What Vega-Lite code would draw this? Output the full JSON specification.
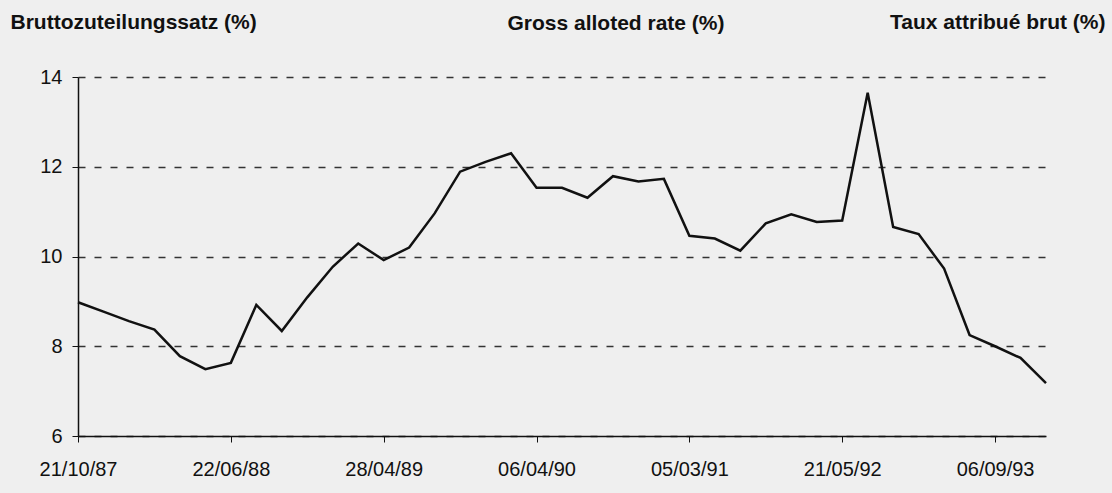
{
  "$schema": "https://vega.github.io/schema/vega-lite/v6.json",
  "width": 968,
  "height": 359,
  "autosize": {"type": "none"},
  "padding": {"left": 78, "top": 77, "right": 66, "bottom": 57},
  "background": "#efefef",
  "config": {
    "view": {"stroke": null},
    "font": "Liberation Sans",
    "axis": {"labelFont": "Liberation Sans", "labelFontSize": 20, "labelColor": "#111", "domainColor": "#111", "tickColor": "#111", "titleFont": "Liberation Sans"}
  },
  "title": {
    "text": "Gross alloted rate (%)",
    "anchor": "middle",
    "frame": "group",
    "dx": 54,
    "dy": 40,
    "offset": 0,
    "baseline": "alphabetic",
    "font": "Liberation Sans",
    "fontSize": 21,
    "fontWeight": "bold",
    "color": "#111"
  },
  "data": {
    "values": [
      {"i": 0, "rate": 8.98}, {"i": 1, "rate": 8.77}, {"i": 2, "rate": 8.56}, {"i": 3, "rate": 8.37},
      {"i": 4, "rate": 7.78}, {"i": 5, "rate": 7.49}, {"i": 6, "rate": 7.63}, {"i": 7, "rate": 8.92},
      {"i": 8, "rate": 8.34}, {"i": 9, "rate": 9.09}, {"i": 10, "rate": 9.77}, {"i": 11, "rate": 10.29},
      {"i": 12, "rate": 9.92}, {"i": 13, "rate": 10.2}, {"i": 14, "rate": 10.96}, {"i": 15, "rate": 11.89},
      {"i": 16, "rate": 12.11}, {"i": 17, "rate": 12.3}, {"i": 18, "rate": 11.53}, {"i": 19, "rate": 11.53},
      {"i": 20, "rate": 11.31}, {"i": 21, "rate": 11.79}, {"i": 22, "rate": 11.67}, {"i": 23, "rate": 11.73},
      {"i": 24, "rate": 10.46}, {"i": 25, "rate": 10.4}, {"i": 26, "rate": 10.13}, {"i": 27, "rate": 10.74},
      {"i": 28, "rate": 10.94}, {"i": 29, "rate": 10.77}, {"i": 30, "rate": 10.8}, {"i": 31, "rate": 13.65},
      {"i": 32, "rate": 10.66}, {"i": 33, "rate": 10.5}, {"i": 34, "rate": 9.73}, {"i": 35, "rate": 8.25},
      {"i": 36, "rate": 8.0}, {"i": 37, "rate": 7.74}, {"i": 38, "rate": 7.18}
    ]
  },
  "layer": [
    {
      "mark": {"type": "line", "color": "#111", "strokeWidth": 2.5, "strokeJoin": "miter"},
      "encoding": {
        "x": {
          "field": "i", "type": "quantitative",
          "scale": {"domain": [0, 38], "nice": false, "zero": false},
          "axis": {
            "title": null, "grid": false,
            "values": [0, 6, 12, 18, 24, 30, 36],
            "labelExpr": "['21/10/87','22/06/88','28/04/89','06/04/90','05/03/91','21/05/92','06/09/93'][datum.value/6]",
            "labelFlush": false, "labelOverlap": false,
            "tickSize": 6, "labelPadding": 17, "domainWidth": 1.5
          }
        },
        "y": {
          "field": "rate", "type": "quantitative",
          "scale": {"domain": [6, 14], "nice": false, "zero": false},
          "axis": {
            "values": [6, 8, 10, 12, 14],
            "grid": true, "gridDash": [7, 9], "gridColor": "#333", "gridWidth": 1.5,
            "tickSize": 6, "labelPadding": 10, "domainWidth": 1.5, "labelFlush": false,
            "title": "Bruttozuteilungssatz (%)",
            "titleAngle": 0, "titleAlign": "left", "titleBaseline": "alphabetic",
            "titleX": -68, "titleY": -49,
            "titleFontSize": 21, "titleFontWeight": "bold", "titleColor": "#111"
          }
        }
      }
    },
    {
      "mark": {"type": "line", "opacity": 0},
      "encoding": {
        "x": {"field": "i", "type": "quantitative"},
        "y": {
          "field": "rate", "type": "quantitative",
          "axis": {
            "orient": "right", "labels": false, "ticks": false, "domain": false, "grid": false,
            "title": "Taux attribué brut (%)",
            "titleAngle": 0, "titleAlign": "right", "titleBaseline": "alphabetic",
            "titleX": 59, "titleY": -49,
            "titleFontSize": 21, "titleFontWeight": "bold", "titleColor": "#111"
          }
        }
      }
    }
  ],
  "resolve": {"axis": {"y": "independent"}}
}
